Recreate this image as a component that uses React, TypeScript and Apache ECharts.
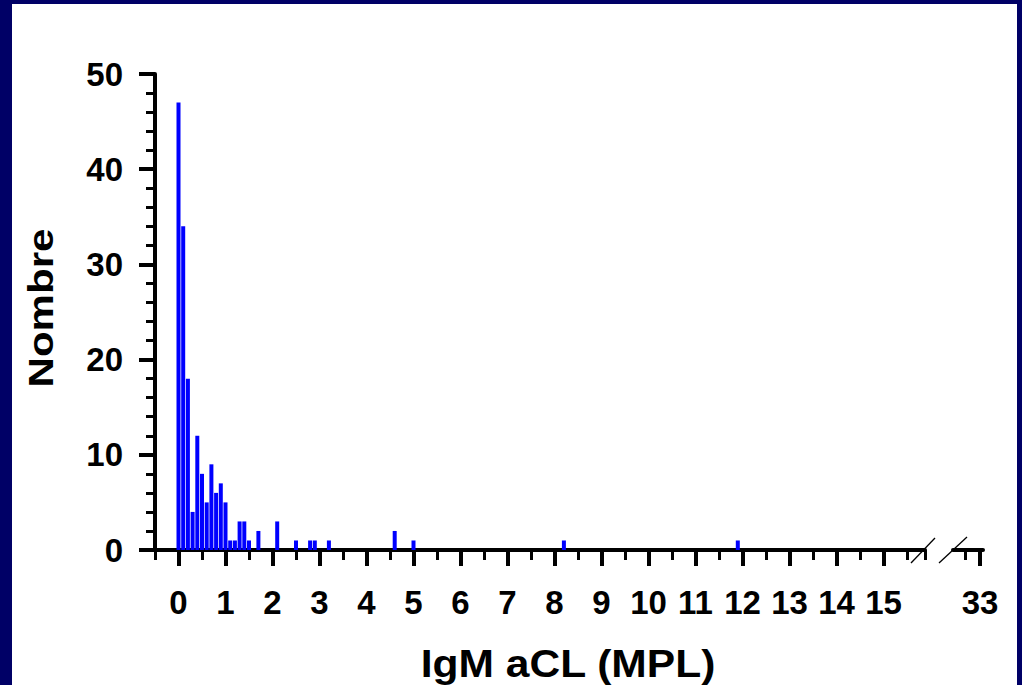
import React, { useEffect, useRef } from "react";
import * as echarts from "echarts";

// Histogram of IgM aCL (MPL): bin positions and counts
const binValues = [0, 0.1, 0.2, 0.3, 0.4, 0.5, 0.6, 0.7, 0.8, 0.9, 1.0, 1.1, 1.2, 1.3, 1.4, 1.5, 1.7, 2.1, 2.5, 2.8, 2.9, 3.2, 4.6, 5.0, 8.2, 11.9];
const counts = [47, 34, 18, 4, 12, 8, 5, 9, 6, 7, 5, 1, 1, 3, 3, 1, 2, 3, 1, 1, 1, 1, 2, 1, 1, 1];
const xMajorTicks = [0, 1, 2, 3, 4, 5, 6, 7, 8, 9, 10, 11, 12, 13, 14, 15];
const brokenMajorTicks = [33];
const brokenMinorTicks = [32.5];
const yTickStep = 10;
const yMaxValue = 50;
const xTitle = "IgM aCL (MPL)";
const yTitle = "Nombre";

export default function App() {
  const ref = useRef<HTMLDivElement>(null);

  useEffect(() => {
    if (!ref.current) return;
    const chart = echarts.init(ref.current, null, { renderer: "svg" });
    const labelFont = {
      fontFamily: "Liberation Sans",
      fontWeight: "bold" as const,
      fontSize: 33,
      color: "#000",
    };
    const lineMain = { color: "#000", width: 4 };
    const lineMinor = { color: "#000", width: 3 };

    chart.setOption({
      animation: false,
      backgroundColor: "transparent",
      grid: [
        { left: 155, top: 74, width: 770, height: 476 },
        { left: 953, top: 74, width: 30, height: 476 },
      ],
      xAxis: [
        {
          type: "value",
          gridIndex: 0,
          min: -0.5,
          max: 15.883,
          position: "bottom",
          axisLine: { show: true, onZero: false, lineStyle: lineMain },
          axisTick: { show: true, customValues: xMajorTicks, length: 16, lineStyle: lineMain },
          axisLabel: { show: true, customValues: xMajorTicks, margin: 36, ...labelFont },
          splitLine: { show: false },
        },
        {
          type: "value",
          gridIndex: 0,
          min: -0.5,
          max: 15.883,
          interval: 0.5,
          position: "bottom",
          axisLine: { show: false, onZero: false },
          axisTick: { show: true, length: 10, lineStyle: lineMinor },
          axisLabel: { show: false },
          splitLine: { show: false },
        },
        {
          type: "value",
          gridIndex: 1,
          min: 32.1,
          max: 33.1,
          position: "bottom",
          axisLine: { show: true, onZero: false, lineStyle: lineMain },
          axisTick: { show: true, customValues: brokenMajorTicks, length: 16, lineStyle: lineMain },
          axisLabel: { show: true, customValues: brokenMajorTicks, margin: 36, ...labelFont },
          splitLine: { show: false },
        },
        {
          type: "value",
          gridIndex: 1,
          min: 32.1,
          max: 33.1,
          position: "bottom",
          axisLine: { show: false, onZero: false },
          axisTick: { show: true, customValues: brokenMinorTicks, length: 10, lineStyle: lineMinor },
          axisLabel: { show: false },
          splitLine: { show: false },
        },
      ],
      yAxis: [
        {
          type: "value",
          gridIndex: 0,
          min: 0,
          max: yMaxValue,
          interval: yTickStep,
          axisLine: { show: true, onZero: false, lineStyle: lineMain },
          axisTick: { show: true, length: 16, lineStyle: lineMain },
          minorTick: { show: true, splitNumber: 5, length: 9, lineStyle: lineMinor },
          axisLabel: { margin: 32, ...labelFont },
          splitLine: { show: false },
        },
        { type: "value", gridIndex: 1, min: 0, max: yMaxValue, show: false },
      ],
      series: [
        {
          type: "bar",
          xAxisIndex: 0,
          yAxisIndex: 0,
          barWidth: 4,
          itemStyle: { color: "#0000ff" },
          data: binValues.map((v, i) => [v, counts[i]]),
        },
      ],
      graphic: [
        {
          type: "line",
          shape: { x1: 911, y1: 563, x2: 935, y2: 538 },
          style: { stroke: "#000", lineWidth: 1.3 },
        },
        {
          type: "line",
          shape: { x1: 939, y1: 563, x2: 967, y2: 537 },
          style: { stroke: "#000", lineWidth: 1.3 },
        },
        {
          type: "text",
          x: 568,
          y: 664,
          scaleX: 1.12,
          style: {
            text: xTitle,
            font: 'bold 38px "Liberation Sans"',
            fill: "#000",
            align: "center",
            verticalAlign: "middle",
          },
        },
        {
          type: "text",
          x: 41,
          y: 308,
          rotation: Math.PI / 2,
          scaleX: 1.17,
          style: {
            text: yTitle,
            font: 'bold 36px "Liberation Sans"',
            fill: "#000",
            align: "center",
            verticalAlign: "middle",
          },
        },
      ],
    });
    return () => chart.dispose();
  }, []);

  return (
    <div style={{ position: "fixed", left: 0, top: 0, width: 1022, height: 685, background: "#000066", overflow: "hidden" }}>
      <div style={{ position: "absolute", left: 12, top: 4, width: 1005, height: 681, background: "#ffffff" }} />
      <div ref={ref} style={{ position: "absolute", left: 0, top: 0, width: 1022, height: 685 }} />
    </div>
  );
}
